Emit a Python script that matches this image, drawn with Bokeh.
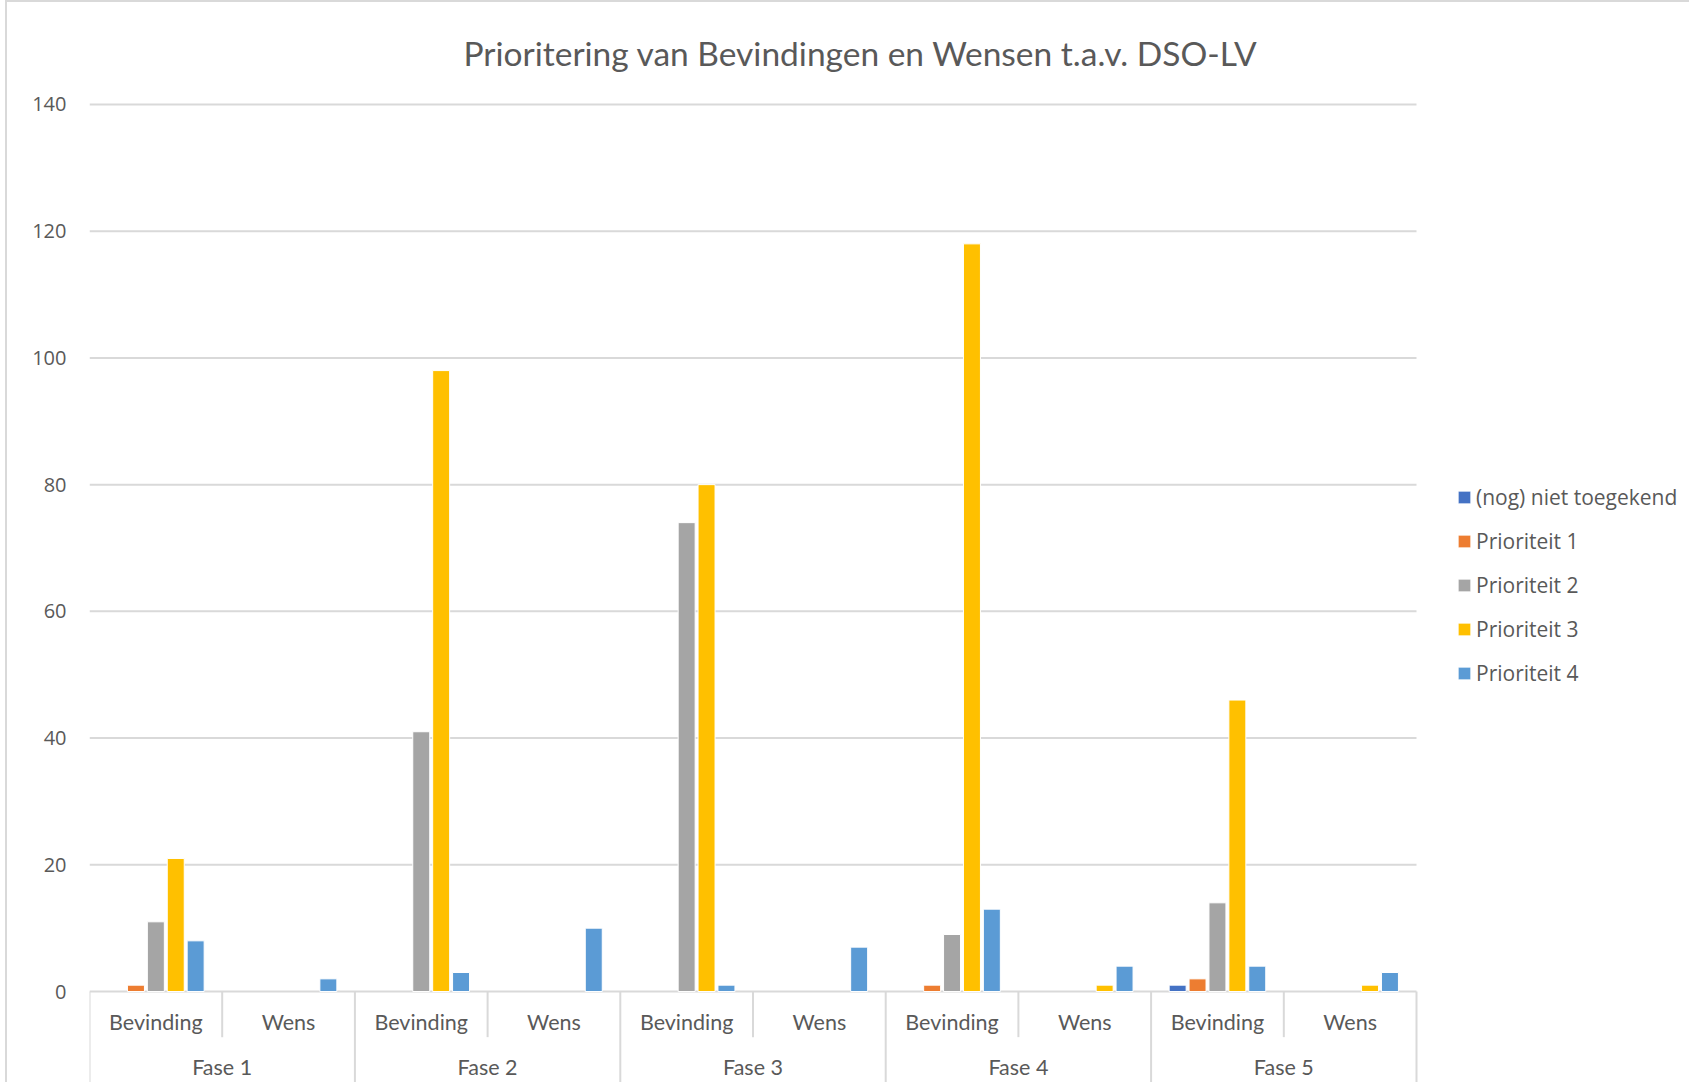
from bokeh.plotting import figure
from bokeh.models import Range1d, FixedTicker, ColumnDataSource, Legend, LegendItem
from bokeh.core.properties import value
from bokeh.embed import file_html
from bokeh.resources import INLINE

# ---------------- data ----------------
TITLE = "Prioritering van Bevindingen en Wensen t.a.v. DSO-LV"
PHASES = ["Fase 1", "Fase 2", "Fase 3", "Fase 4", "Fase 5"]
TYPES = ["Bevinding", "Wens"]
SERIES = ["(nog) niet toegekend", "Prioriteit 1", "Prioriteit 2", "Prioriteit 3", "Prioriteit 4"]
# order: F1 Bev, F1 Wens, F2 Bev, F2 Wens, ... F5 Wens
niet_toegekend = [0, 0, 0, 0, 0, 0, 0, 0, 1, 0]
prioriteit_1 = [1, 0, 0, 0, 0, 0, 1, 0, 2, 0]
prioriteit_2 = [11, 0, 41, 0, 74, 0, 9, 0, 14, 0]
prioriteit_3 = [21, 0, 98, 0, 80, 0, 118, 1, 46, 1]
prioriteit_4 = [8, 2, 3, 10, 1, 7, 13, 4, 4, 3]
Y_TICKS = [0, 20, 40, 60, 80, 100, 120, 140]

# ---------------- styles / layout ----------------
COLORS = ["#4472C4", "#ED7D31", "#A5A5A5", "#FFC000", "#5B9BD5"]
OFFSETS = [-0.30, -0.15, 0.0, 0.15, 0.30]
BAR_W = 0.128
TEXT_COLOR = "#595959"
GRID_COLOR = "#D9D9D9"
Y_MIN, Y_MAX = -14.36, 141.26
SHORT_SEP = -7.2
LONG_SEP = Y_MIN
SUB_LABEL_Y = -4.75
PHASE_LABEL_Y = -11.9
W, H = 1684, 1082
LEFT, TOP = 82, 94
PLOT_AREA_PX = 1327          # width of the category area in pixels

factors = [(f, t) for f in PHASES for t in TYPES]
n_cat = len(factors)
values = [niet_toegekend, prioriteit_1, prioriteit_2, prioriteit_3, prioriteit_4]
x_end = n_cat * (W - LEFT) / PLOT_AREA_PX

p = figure(
    width=W, height=H,
    x_range=Range1d(0, x_end),
    y_range=Range1d(Y_MIN, Y_MAX),
    x_axis_location=None,
    output_backend="svg", toolbar_location=None,
    min_border_left=LEFT, min_border_right=0, min_border_top=TOP, min_border_bottom=2,
    title=TITLE,
    styles={"border-left": "2px solid #D9D9D9", "border-top": "2px solid #D9D9D9"},
    margin=(0, 0, 0, 5),
)
p.outline_line_color = None
p.background_fill_color = "white"
p.border_fill_color = "white"

p.title.text_font = "Lato"
p.title.text_font_style = "normal"
p.title.text_font_size = "33.5px"
p.title.text_color = TEXT_COLOR
p.title.align = "left"
p.title.offset = 374
p.title.standoff = 48

p.xgrid.visible = False
p.ygrid.visible = False
p.yaxis.ticker = FixedTicker(ticks=Y_TICKS)
p.yaxis.axis_line_color = None
p.yaxis.major_tick_line_color = None
p.yaxis.minor_tick_line_color = None
p.yaxis.major_tick_out = 0
p.yaxis.major_tick_in = 0
p.yaxis.major_label_standoff = 23
p.yaxis.major_label_text_font = "Open Sans"
p.yaxis.major_label_text_font_size = "20px"
p.yaxis.major_label_text_color = TEXT_COLOR

# horizontal gridlines over the category area only
p.segment(x0=0, x1=n_cat, y0=Y_TICKS, y1=Y_TICKS, line_color=GRID_COLOR, line_width=2)

# separators of the category axis
sep_x = list(range(n_cat + 1))
sep_y = [LONG_SEP if t == "Bevinding" else SHORT_SEP for (_, t) in factors] + [LONG_SEP]
p.segment(x0=sep_x, y0=0, x1=sep_x, y1=sep_y, line_color=GRID_COLOR, line_width=2)

# bars
items = []
for name, vals, color, off in zip(SERIES, values, COLORS, OFFSETS):
    xs = [i + 0.5 + off for i, v in enumerate(vals) if v > 0]
    tops = [v for v in vals if v > 0]
    cats = [" / ".join(f) for f, v in zip(factors, vals) if v > 0]
    src = ColumnDataSource(dict(x=xs, top=tops, cat=cats))
    r = p.vbar(x="x", top="top", width=BAR_W, source=src,
               fill_color=color, line_color="white", line_width=1)
    items.append(LegendItem(label=name, renderers=[r]))

# category labels
sub_src = ColumnDataSource(dict(x=[i + 0.5 for i in range(n_cat)],
                                label=[t for (_, t) in factors]))
p.text(x="x", y=SUB_LABEL_Y, text="label", source=sub_src,
       text_font=value("Lato"), text_font_size="21.5px", text_color=TEXT_COLOR,
       text_align="center", text_baseline="middle")
ph_src = ColumnDataSource(dict(x=[len(TYPES) * (j + 0.5) for j in range(len(PHASES))],
                               label=PHASES))
p.text(x="x", y=PHASE_LABEL_Y, text="label", source=ph_src,
       text_font=value("Lato"), text_font_size="21.5px", text_color=TEXT_COLOR,
       text_align="center", text_baseline="middle")

legend = Legend(items=items, location=(1367, 395), orientation="vertical",
                glyph_width=16, glyph_height=16, label_standoff=4,
                label_text_font="Open Sans", label_text_font_size="21px",
                label_text_color=TEXT_COLOR, label_height=28, spacing=16,
                padding=0, margin=0, border_line_color=None,
                background_fill_alpha=0)
p.add_layout(legend)

open("out.html", "w").write(file_html(p, INLINE))
